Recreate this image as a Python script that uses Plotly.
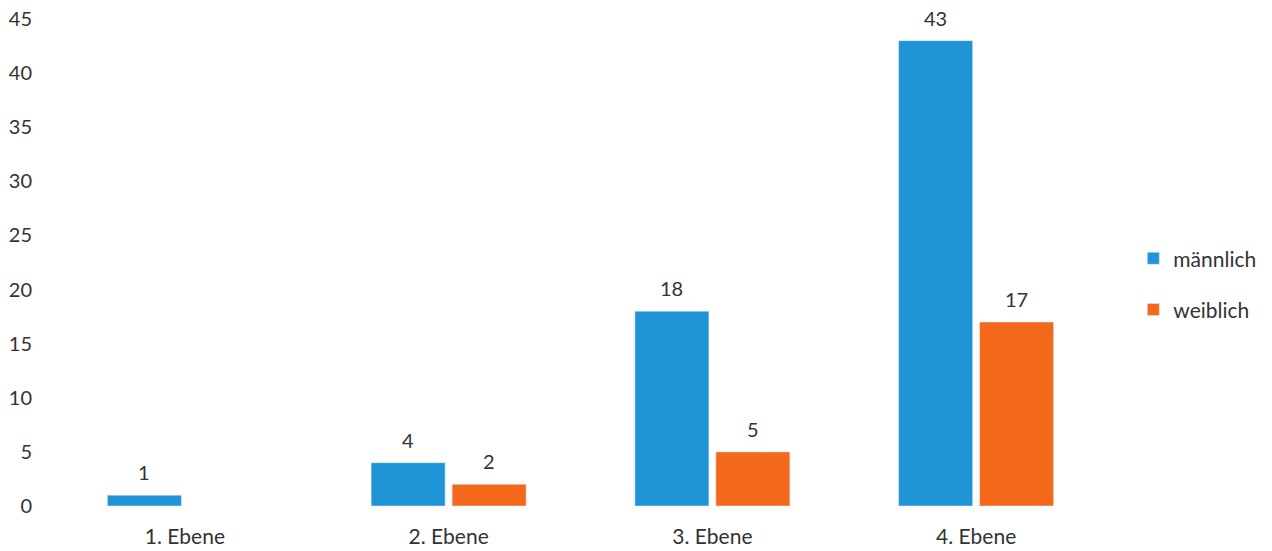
import plotly.graph_objects as go

categories = ["1. Ebene", "2. Ebene", "3. Ebene", "4. Ebene"]
maennlich = [1, 4, 18, 43]
weiblich = [0, 2, 5, 17]
series_names = ["männlich", "weiblich"]
y_ticks = [0, 5, 10, 15, 20, 25, 30, 35, 40, 45]

blue = "#1f95d8"
orange = "#f4681b"
txt = "#333333"
font_family = "Lato, 'Open Sans', sans-serif"

fig = go.Figure()
fig.add_trace(go.Bar(x=categories, y=[v if v else None for v in maennlich],
                     name=series_names[0], marker_color=blue, legendgroup="m"))
fig.add_trace(go.Bar(x=categories, y=[v if v else None for v in weiblich],
                     name=series_names[1], marker_color=orange, legendgroup="w"))

annotations = []
for vals, shift in ((maennlich, -40.5), (weiblich, 40.5)):
    for c, v in zip(categories, vals):
        if v:
            annotations.append(dict(x=c, y=v, xref="x", yref="y", text=str(v),
                                    showarrow=False, xshift=shift, yshift=9,
                                    yanchor="bottom",
                                    font=dict(size=20, color=txt, family=font_family)))

fig.update_layout(
    width=1272, height=551,
    margin=dict(l=53, r=164, t=19, b=45, autoexpand=False),
    paper_bgcolor="white", plot_bgcolor="white",
    barmode="group", bargap=0.386, bargroupgap=0.086,
    font=dict(family=font_family, size=20, color=txt),
    annotations=annotations,
    legend=dict(x=1.024, y=0.55, xanchor="left", yanchor="top",
                tracegroupgap=21, font=dict(size=21, color=txt)),
    xaxis=dict(showline=False, showgrid=False, zeroline=False, automargin=False,
               ticks="outside", ticklen=12, tickcolor="rgba(0,0,0,0)",
               tickfont=dict(size=21)),
    yaxis=dict(range=[0, 45], tickvals=y_ticks, showgrid=False, zeroline=False,
               showline=False, ticklabelstandoff=20, automargin=False),
)

fig.write_html("out.html")
